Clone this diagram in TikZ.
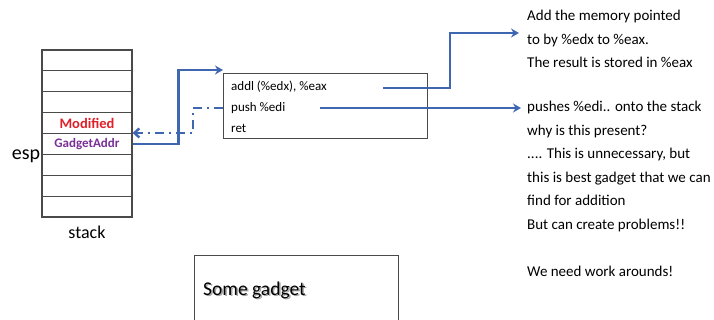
\documentclass[tikz,border=0pt]{standalone}
\usepackage{fontspec}
\setmainfont{Carlito}
\usetikzlibrary{arrows.meta,calc}
\definecolor{linkblue}{HTML}{3F67B1}
\definecolor{modred}{HTML}{E0202A}
\definecolor{addrpurple}{HTML}{7A3096}
\definecolor{boxgray}{HTML}{4A4A4A}
\tikzset{
  cell/.style={draw=boxgray,line width=1.1pt,minimum width=90pt,minimum height=20.875pt,inner sep=0pt},
  codebox/.style={draw=boxgray,line width=1pt,minimum width=204pt,minimum height=65pt,inner sep=0pt},
  codeline/.style={anchor=west,inner sep=0pt,font=\fontsize{13}{15}\selectfont},
  note/.style={anchor=north west,align=left,inner sep=0pt,font=\fontsize{15}{23.5}\selectfont},
  link/.style={draw=linkblue,line width=2.4pt,-{Stealth[length=8pt,width=9pt]}},
  backlink/.style={draw=linkblue,line width=2.4pt,dash pattern=on 9pt off 5pt on 2pt off 5pt,-{Straight Barb[length=5pt,width=9pt]}},
}
\begin{document}
\begin{tikzpicture}[x=1pt,y=-1pt]
\useasboundingbox (0,0) rectangle (714,320);
\fill[white] (0,0) rectangle (714,320);

% stack of eight cells
\foreach \i in {1,...,8}{
  \node[cell] (r\i) at (87,{50+(\i-0.5)*20.875}) {};
}
\node[text=modred,font=\fontsize{14.5}{16}\selectfont\bfseries] (modtxt) at (r4) {Modified};
\node[text=addrpurple,font=\fontsize{13}{15}\selectfont\bfseries] (addrtxt) at (r5) {GadgetAddr};
\node[anchor=east,inner sep=1pt,font=\fontsize{20}{22}\selectfont] (esp) at ([yshift=-1pt]r5.south west) {esp};
\node[font=\fontsize{18}{20}\selectfont] (stk) at (87,232) {stack};

% gadget code box
\node[codebox,anchor=north west] (box) at (223,73) {};
\node[codeline] (l1) at (231,87) {addl (\%edx), \%eax};
\node[codeline] (l2) at (231,108) {push \%edi};
\node[codeline] (l3) at (231,128) {ret};

% explanations
\node[note] (n1) at (527,10) {Add the memory pointed\\to by \%edx to \%eax.\\The result is stored in \%eax};
\node[note] (n2) at (527,101) {pushes \%edi.. onto the stack\\why is this present?\\.... This is unnecessary, but\\this is best gadget that we can\\find for addition\\But can create problems!!\\[23.5pt]We need work arounds!};

% connectors
\coordinate (s1) at (383,88);
\coordinate (s2) at (320,108);
\coordinate (e1) at (519,33);
\coordinate (e2) at (521,108);
\draw[link] (r5.east) -- ++(46,0) |- ([yshift=3pt]box.north west);
\draw[backlink] (box.west |- l2) -- ++(-30,0) |- (r5.north east);
\draw[link] (s1) -- (450,88) |- (e1);
\draw[link] (s2) -- (e2);

% lower box
\draw[draw=boxgray,line width=1pt] (194,330) -- (194,255) -- (398,255) -- (398,330);
\node[anchor=west,inner sep=0pt,text=black!35,font=\fontsize{19.5}{22}\selectfont] at (204.5,291.5) {Some gadget};
\node[anchor=west,inner sep=0pt,font=\fontsize{19.5}{22}\selectfont] (sg) at (203,290) {Some gadget};
\end{tikzpicture}
\end{document}
